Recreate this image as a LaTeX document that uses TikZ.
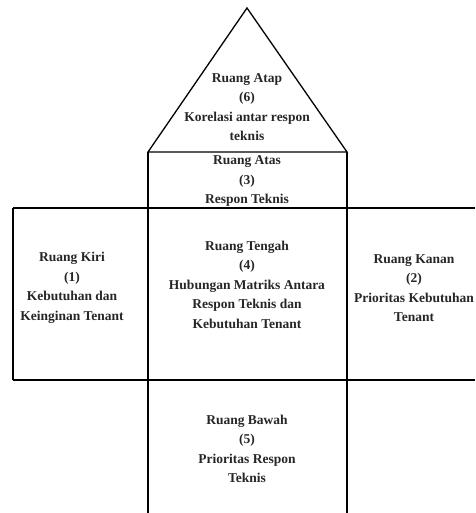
\documentclass[tikz,border=0pt]{standalone}
\usepackage{fontspec}
\setmainfont{Liberation Serif}
\begin{document}
\begin{tikzpicture}[x=1pt,y=1pt,
  wall/.style={line width=1.3pt, black},
  lbl/.style={align=center, font=\bfseries\fontsize{13.5}{19.5}\selectfont, inner sep=0pt, text=black!85}]
\useasboundingbox (0,0) rectangle (475,-513);
% key coordinates
\coordinate (apex) at (247,-8);
\coordinate (rl) at (148,-152);
\coordinate (rr) at (347,-152);
\coordinate (ml) at (148,-208);
\coordinate (mr) at (347,-208);
\coordinate (bl) at (148,-380);
\coordinate (br) at (347,-380);
\coordinate (lt) at (13,-208);
\coordinate (lb) at (13,-380);
\coordinate (et) at (475,-208);
\coordinate (eb) at (475,-380);
\coordinate (fl) at (148,-513);
\coordinate (fr) at (347,-513);
% roof
\draw[wall, line join=miter] (rl) -- (apex) -- (rr) -- cycle;
% verticals
\draw[wall] (rl) -- (fl);
\draw[wall] (rr) -- (fr);
% horizontals
\draw[wall] (lt) -- (et);
\draw[wall] (lb) -- (eb);
\draw[wall] (lt) -- (lb);
% labels
\node[lbl] (atap) at (247,-107) {Ruang Atap\\(6)\\Korelasi antar respon\\teknis};
\node[lbl] (atas) at (247,-181) {Ruang Atas\\(3)\\Respon Teknis};
\node[lbl] (kiri) at (72,-288) {Ruang Kiri\\(1)\\Kebutuhan dan\\Keinginan Tenant};
\node[lbl] (tengah) at (247,-284.5) {Ruang Tengah\\(4)\\Hubungan Matriks Antara\\Respon Teknis dan\\Kebutuhan Tenant};
\node[lbl] (kanan) at (414,-288) {Ruang Kanan\\(2)\\Prioritas Kebutuhan\\Tenant};
\node[lbl] (bawah) at (247,-449) {Ruang Bawah\\(5)\\Prioritas Respon\\Teknis};
\end{tikzpicture}
\end{document}
